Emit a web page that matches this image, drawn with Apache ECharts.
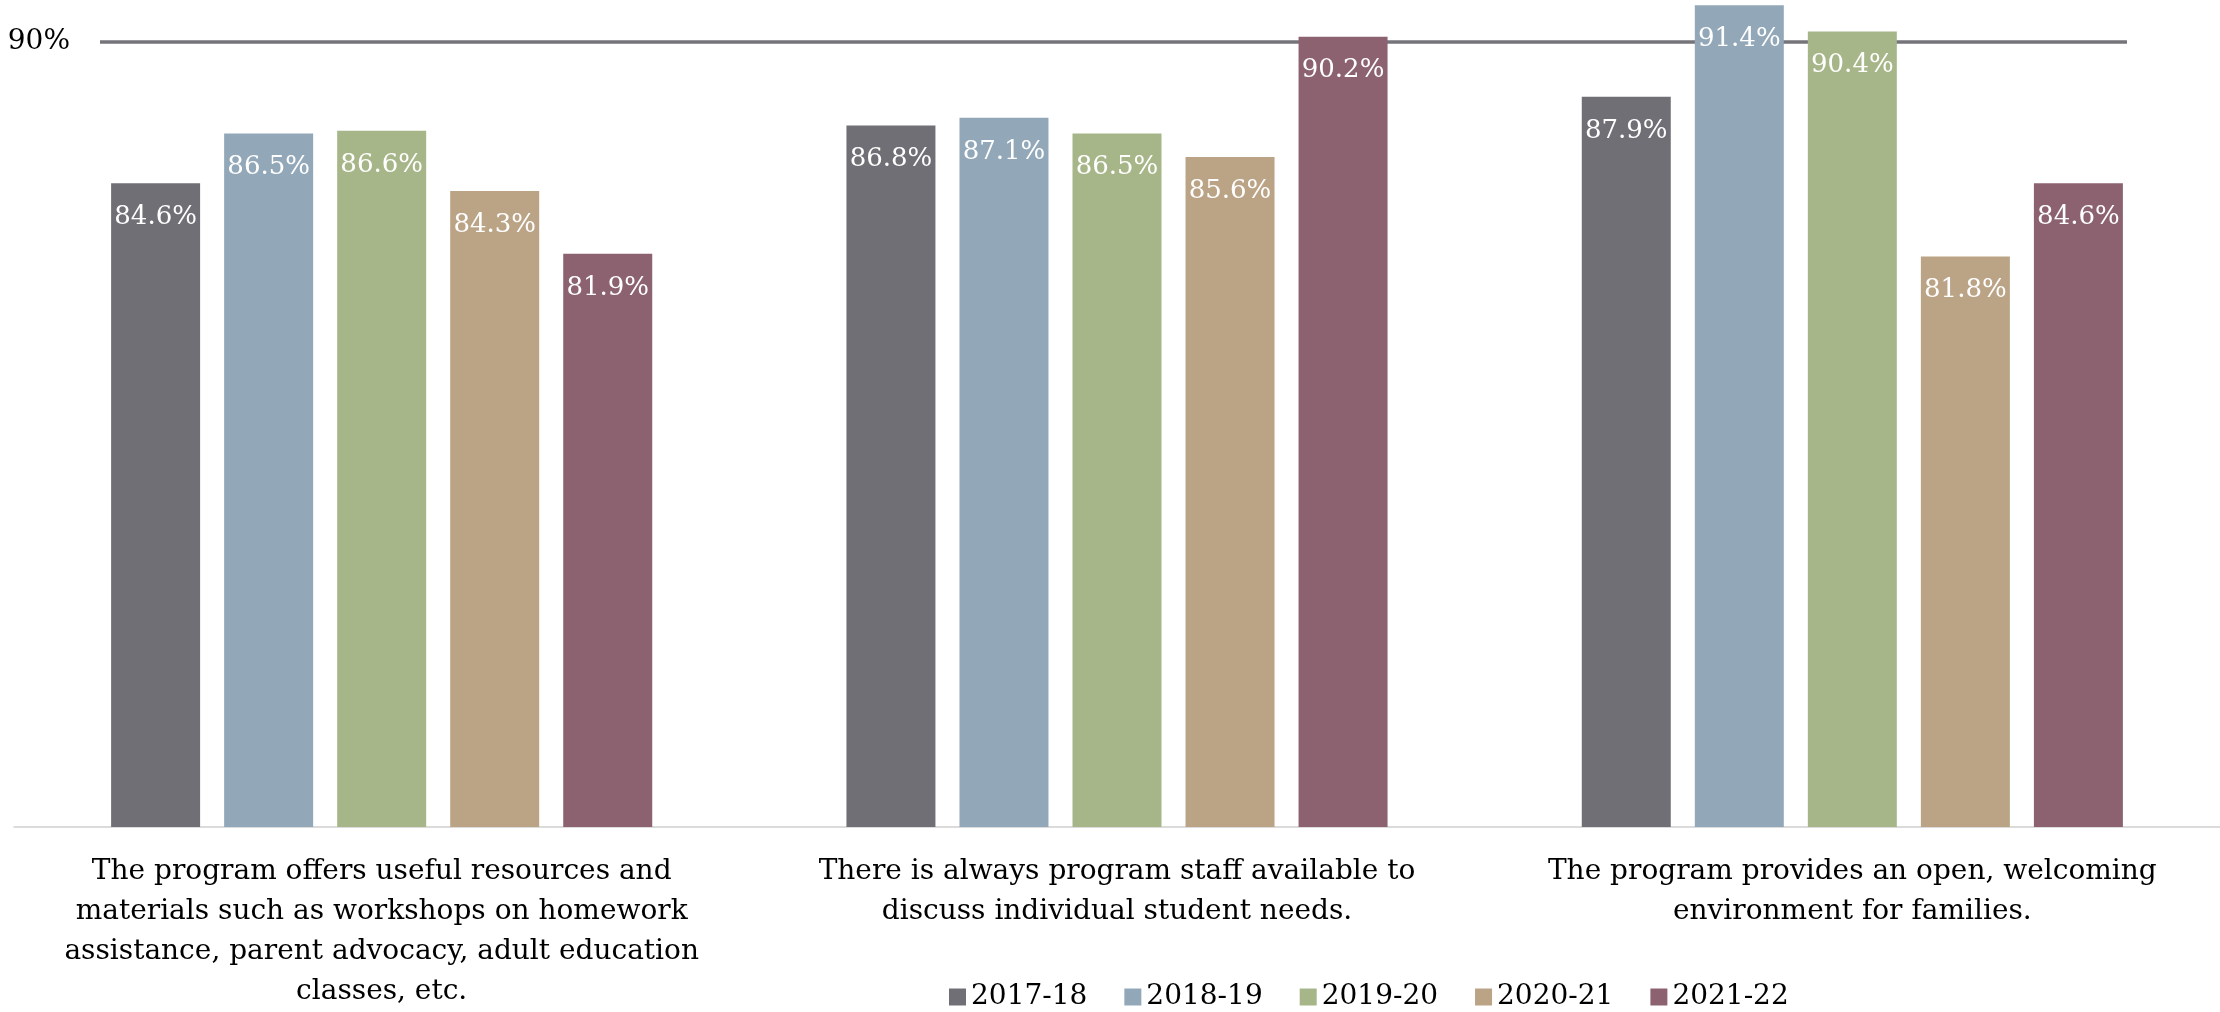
<!DOCTYPE html>
<html>
<head>
<meta charset="utf-8">
<script src="https://cdn.jsdelivr.net/npm/echarts@6/dist/echarts.min.js"></script>
<style>html,body{margin:0;padding:0;background:#fff;}#chart{width:2220px;height:1012px;}</style>
</head>
<body>
<div id="chart"></div>
<script>
const categories = [
  "The program offers useful resources and\nmaterials such as workshops on homework\nassistance, parent advocacy, adult education\nclasses, etc.",
  "There is always program staff available to\ndiscuss individual student needs.",
  "The program provides an open, welcoming\nenvironment for families."
];
const seriesNames = ["2017-18", "2018-19", "2019-20", "2020-21", "2021-22"];
const v2017 = [84.6, 86.8, 87.9];
const v2018 = [86.5, 87.1, 91.4];
const v2019 = [86.6, 86.5, 90.4];
const v2020 = [84.3, 85.6, 81.8];
const v2021 = [81.9, 90.2, 84.6];
const targetValue = 90;
const targetLabel = "90%";

const values = [v2017, v2018, v2019, v2020, v2021];
const colors = ["#706f75", "#92a8b9", "#a7b688", "#bba386", "#8d6270"];
const FONT = "DejaVu Serif";

const chart = echarts.init(document.getElementById('chart'), null, {renderer: 'canvas'});
const series = seriesNames.map((name, i) => {
  const s = {
    name: name,
    type: 'bar',
    data: values[i],
    barWidth: 89,
    barGap: '27%',
    z: 2,
    itemStyle: {color: colors[i]},
    label: {
      show: true,
      position: 'insideTop',
      distance: 21,
      color: '#ffffff',
      fontFamily: FONT,
      fontSize: 26,
      formatter: p => p.value.toFixed(1) + '%'
    },
    emphasis: {disabled: true}
  };
  if (i === 0) {
    s.markLine = {
      z: 1,
      silent: true,
      symbol: ['none', 'none'],
      lineStyle: {color: '#75747a', width: 3.5, type: 'solid'},
      label: {
        show: true,
        position: 'start',
        distance: 30,
        formatter: targetLabel,
        color: '#000000',
        fontFamily: FONT,
        fontSize: 28
      },
      emphasis: {disabled: true},
      data: [[{x: 100, yAxis: targetValue}, {x: 2127, yAxis: targetValue}]]
    };
  }
  return s;
});

chart.setOption({
  animation: false,
  backgroundColor: '#ffffff',
  grid: {left: 14, right: -3, top: 0, bottom: 176, containLabel: false},
  legend: {
    left: 944,
    top: 978,
    icon: 'rect',
    itemWidth: 17,
    itemHeight: 17,
    itemGap: 37,
    textStyle: {color: '#000000', fontFamily: FONT, fontSize: 28},
    data: seriesNames
  },
  xAxis: {
    type: 'category',
    data: categories,
    axisLine: {show: true, lineStyle: {color: '#d0d0d0', width: 1.5}},
    axisTick: {show: false},
    axisLabel: {
      interval: 0,
      margin: 25,
      color: '#000000',
      fontFamily: FONT,
      fontSize: 28,
      lineHeight: 40,
      align: 'center'
    }
  },
  yAxis: {
    type: 'value',
    min: 60,
    max: 91.6,
    show: false,
    splitLine: {show: false}
  },
  series: series
});
</script>
</body>
</html>
